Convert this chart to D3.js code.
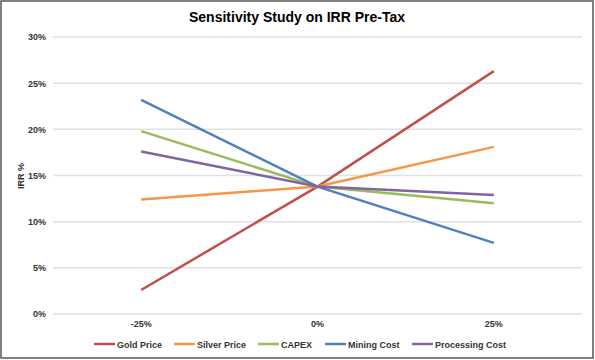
<!DOCTYPE html>
<html><head><meta charset="utf-8">
<script src="https://cdn.jsdelivr.net/npm/d3@7"></script>
<style>body{margin:0;background:#fff}svg{display:block}text{font-family:Arial,"Liberation Sans",sans-serif}</style>
</head><body>
<script>
const categories = ["-25%", "0%", "25%"];
const seriesNames = ["Gold Price", "Silver Price", "CAPEX", "Mining Cost", "Processing Cost"];
const goldPrice = [2.6, 13.8, 26.3];
const silverPrice = [12.4, 13.8, 18.1];
const capex = [19.8, 13.8, 12.0];
const miningCost = [23.2, 13.8, 7.7];
const processingCost = [17.6, 13.8, 12.9];
const yTicks = [0, 5, 10, 15, 20, 25, 30];
const colors = ["#C0504D", "#F79646", "#9BBB59", "#4F81BD", "#8064A2"];

const series = [goldPrice, silverPrice, capex, miningCost, processingCost];
const W = 595, H = 360;
const svg = d3.select("body").append("svg").attr("width", W).attr("height", H);
svg.append("rect").attr("x", 1).attr("y", 1).attr("width", W - 3).attr("height", H - 3)
  .attr("fill", "#fff").attr("stroke", "#555").attr("stroke-width", 1.5);

const x = d3.scaleBand().domain(categories).range([53, 582]);
const y = d3.scaleLinear().domain([0, 30]).range([314, 37]);

svg.append("text").attr("x", 297).attr("y", 22).attr("text-anchor", "middle")
  .attr("font-size", 14).attr("font-weight", "bold").attr("fill", "#000")
  .text("Sensitivity Study on IRR Pre-Tax");

const grid = svg.append("g");
grid.selectAll("line").data(yTicks).join("line")
  .attr("x1", 53).attr("x2", 582).attr("y1", d => y(d)).attr("y2", d => y(d))
  .attr("stroke", "#e0e0e0").attr("stroke-width", 1.5);

const yAxis = svg.append("g").attr("transform", "translate(53,0)")
  .call(d3.axisLeft(y).tickValues(yTicks).tickFormat(d => d + "%").tickSize(0).tickPadding(7));
yAxis.select(".domain").remove();
yAxis.selectAll("text").attr("font-size", 9).attr("font-weight", "bold").attr("fill", "#333")
  .attr("font-family", "Arial, 'Liberation Sans', sans-serif");

const xAxis = svg.append("g").attr("transform", "translate(0,314)")
  .call(d3.axisBottom(x).tickSize(0).tickPadding(7));
xAxis.select(".domain").remove();
xAxis.selectAll("text").attr("font-size", 9).attr("font-weight", "bold").attr("fill", "#333")
  .attr("font-family", "Arial, 'Liberation Sans', sans-serif");

svg.append("text").attr("transform", "translate(24,176) rotate(-90)").attr("text-anchor", "middle")
  .attr("font-size", 9).attr("font-weight", "bold").attr("fill", "#333").text("IRR %");

const line = d3.line().x((d, i) => x(categories[i]) + x.bandwidth() / 2).y(d => y(d));
svg.append("g").selectAll("path").data(series).join("path")
  .attr("d", line).attr("fill", "none").attr("stroke", (d, i) => colors[i]).attr("stroke-width", 2.5);

const legendX = [94, 174, 258, 325, 412];
const lg = svg.append("g").selectAll("g").data(seriesNames).join("g")
  .attr("transform", (d, i) => `translate(${legendX[i]},344)`);
lg.append("line").attr("x1", 0).attr("x2", 21).attr("stroke", (d, i) => colors[i]).attr("stroke-width", 2.5);
lg.append("text").attr("x", 23).attr("y", 3.5).attr("font-size", 9).attr("font-weight", "bold")
  .attr("fill", "#333").text(d => d);
</script>
</body></html>
